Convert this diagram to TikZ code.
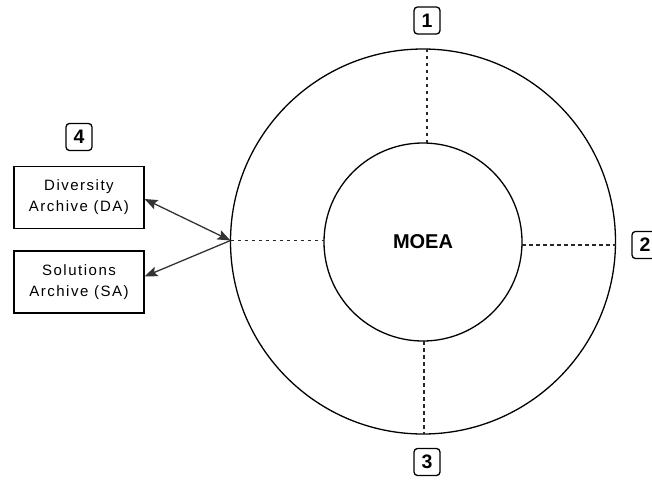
\documentclass[tikz,border=0pt]{standalone}
\usepackage{fontspec}
\setmainfont{Liberation Sans}
\usetikzlibrary{arrows.meta}
\tikzset{
  ring/.style={draw=black, line width=1.3pt, circle, inner sep=0pt},
  archbox/.style={draw=black, line width=1.1pt, minimum width=130pt, minimum height=62pt, align=center, inner sep=0pt,
    font=\fontsize{15pt}{21pt}\selectfont\addfontfeature{LetterSpace=10}},
  numbox/.style={draw=black, line width=1.3pt, rounded corners=3.5pt, minimum width=26pt, minimum height=27pt, inner sep=0pt,
    font=\fontsize{19.5pt}{21pt}\selectfont\bfseries},
  dashline/.style={draw=black!85, line width=1.1pt, dash pattern=on 3.5pt off 3.5pt},
  arr/.style={draw=black!80, line width=1.3pt},
  mytip/.tip={Stealth[length=13pt, width=10pt, inset=2.5pt]}
}
\begin{document}
\begin{tikzpicture}[x=1pt, y=-1pt]
\useasboundingbox (0,0) rectangle (652,479);
\node[ring, minimum size=385pt] (outer) at (423,241.5) {};
\node[ring, minimum size=198pt, font=\fontsize{20pt}{22pt}\selectfont\bfseries] (inner) at (423,242) {MOEA};
% dashed spokes
\coordinate (t1) at (427,143); \coordinate (t2) at (427,49);
\coordinate (b1) at (424,341); \coordinate (b2) at (424,434);
\coordinate (r1) at (522,245); \coordinate (r2) at (615.5,245);
\coordinate (j) at (230.5,240.5); \coordinate (l2) at (324,240.5);
\draw[dashline] (t1) -- (t2);
\draw[dashline] (b1) -- (b2);
\draw[dashline] (r1) -- (r2);
\draw[dashline] (j) -- (l2);
% archives
\node[archbox] (da) at (79,197.5) {Diversity\\Archive (DA)};
\node[archbox] (sa) at (79,282) {Solutions\\Archive (SA)};
\draw[arr, {mytip}-{mytip}] ([yshift=-1.5pt]da.east) -- (j);
\draw[arr, -{mytip}] (j) -- ([yshift=5.5pt]sa.east);
% number labels
\node[numbox] (n1) at (427,20.5) {1};
\node[numbox] (n2) at (645,245) {2};
\node[numbox] (n3) at (427,462) {3};
\node[numbox] (n4) at (79,137) {4};
\end{tikzpicture}
\end{document}
